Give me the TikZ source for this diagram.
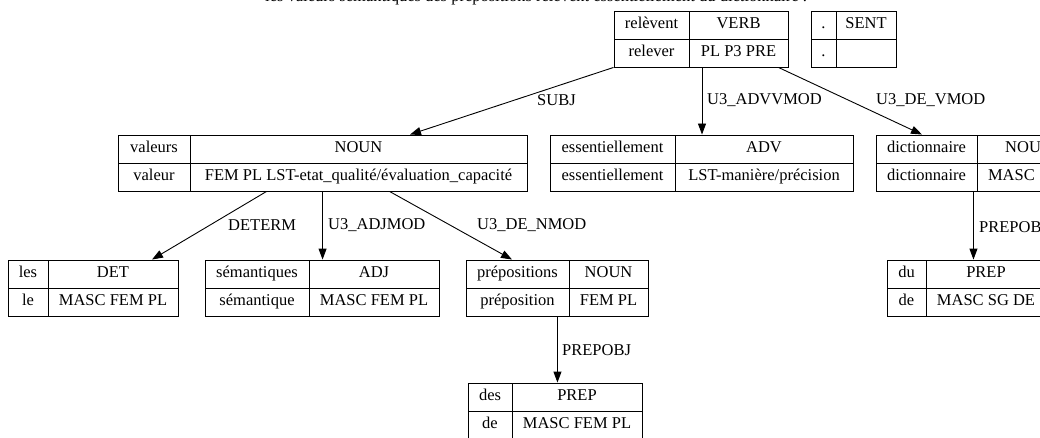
\documentclass[tikz,border=0pt]{standalone}
\usepackage{fontspec}
\setmainfont{Liberation Serif}
\usetikzlibrary{arrows.meta}

\tikzset{
    cell/.style={draw, line width=0.9pt, inner sep=0pt, minimum height=28pt,
                 text height=11.5pt, text depth=3.6pt, font=\fontsize{16.5}{20}\selectfont},
    dep/.style={line width=0.9pt, -{Triangle[length=11pt,width=8pt]}},
    deplabel/.style={anchor=west, inner sep=0pt, font=\fontsize{16.5}{20}\selectfont}
}

\begin{document}
\begin{tikzpicture}[x=1pt, y=-1pt]
            \useasboundingbox (0,0) rectangle (1040,438);
            \clip (0,0) rectangle (1040,438);
            \node[anchor=base, inner sep=0pt, font=\fontsize{16.5}{20}\selectfont] (sentence) at (536,1.5)
                {les valeurs sémantiques des prépositions relèvent essentiellement du dictionnaire .};
            % racine
            \node[cell, minimum width=75pt] (relevent-form) at (651.5,25) {relèvent};
            \node[cell, minimum width=99pt] (relevent-pos) at (738.5,25) {VERB};
            \node[cell, minimum width=75pt] (relevent-lemma) at (651.5,53) {relever};
            \node[cell, minimum width=99pt] (relevent-feat) at (738.5,53) {PL P3 PRE};
            \node[cell, minimum width=25pt] (sent-form) at (823.5,25) {.};
            \node[cell, minimum width=60pt] (sent-pos) at (866,25) {SENT};
            \node[cell, minimum width=25pt] (sent-lemma) at (823.5,53) {.};
            \node[cell, minimum width=60pt] (sent-feat) at (866,53) {};
            % niveau 1
            \node[cell, minimum width=72pt] (valeurs-form) at (154,149) {valeurs};
            \node[cell, minimum width=337pt] (valeurs-pos) at (358.5,149) {NOUN};
            \node[cell, minimum width=72pt] (valeurs-lemma) at (154,177) {valeur};
            \node[cell, minimum width=337pt] (valeurs-feat) at (358.5,177) {FEM PL LST-etat\_qualité/évaluation\_capacité};
            \node[cell, minimum width=125pt] (essentiellement-form) at (612.5,149) {essentiellement};
            \node[cell, minimum width=178pt] (essentiellement-pos) at (764,149) {ADV};
            \node[cell, minimum width=125pt] (essentiellement-lemma) at (612.5,177) {essentiellement};
            \node[cell, minimum width=178pt] (essentiellement-feat) at (764,177) {LST-manière/précision};
            \node[cell, minimum width=101pt] (dictionnaire-form) at (926.5,149) {dictionnaire};
            \node[cell, minimum width=104pt] (dictionnaire-pos) at (1029,149) {NOUN};
            \node[cell, minimum width=101pt] (dictionnaire-lemma) at (926.5,177) {dictionnaire};
            \node[cell, minimum width=104pt, text width=82pt, align=left] (dictionnaire-feat) at (1029,177) {MASC};
            % niveau 2
            \node[cell, minimum width=40pt] (les-form) at (28,274) {les};
            \node[cell, minimum width=130pt] (les-pos) at (113,274) {DET};
            \node[cell, minimum width=40pt] (les-lemma) at (28,302) {le};
            \node[cell, minimum width=130pt] (les-feat) at (113,302) {MASC FEM PL};
            \node[cell, minimum width=104pt] (semantiques-form) at (257,274) {sémantiques};
            \node[cell, minimum width=130pt] (semantiques-pos) at (374,274) {ADJ};
            \node[cell, minimum width=104pt] (semantiques-lemma) at (257,302) {sémantique};
            \node[cell, minimum width=130pt] (semantiques-feat) at (374,302) {MASC FEM PL};
            \node[cell, minimum width=103pt] (prepositions-form) at (517.5,274) {prépositions};
            \node[cell, minimum width=79pt] (prepositions-pos) at (608.5,274) {NOUN};
            \node[cell, minimum width=103pt] (prepositions-lemma) at (517.5,302) {préposition};
            \node[cell, minimum width=79pt] (prepositions-feat) at (608.5,302) {FEM PL};
            \node[cell, minimum width=39pt] (du-form) at (906.5,274) {du};
            \node[cell, minimum width=120pt] (du-pos) at (986,274) {PREP};
            \node[cell, minimum width=39pt] (du-lemma) at (906.5,302) {de};
            \node[cell, minimum width=120pt] (du-feat) at (986,302) {MASC SG DE};
            % niveau 3
            \node[cell, minimum width=44pt] (des-form) at (490,397) {des};
            \node[cell, minimum width=130pt] (des-pos) at (577,397) {PREP};
            \node[cell, minimum width=44pt] (des-lemma) at (490,425) {de};
            \node[cell, minimum width=130pt] (des-feat) at (577,425) {MASC FEM PL};
            % dependances
            \draw[dep] (relevent-lemma.south west) -- ([xshift=51.5pt]valeurs-pos.north);
            \draw[dep] ([xshift=-36.5pt]relevent-feat.south) -- ([xshift=-36.5pt]relevent-feat.south |- essentiellement-pos.north);
            \draw[dep] ([xshift=-10pt]relevent-feat.south east) -- ([xshift=-4.5pt]dictionnaire-form.north);
            \draw[dep] ([xshift=77pt]valeurs-feat.south west) -- ([xshift=39pt]les-pos.north);
            \draw[dep] ([xshift=133pt]valeurs-feat.south west) -- ([xshift=133pt]valeurs-feat.south west |- semantiques-pos.north);
            \draw[dep] ([xshift=200pt]valeurs-feat.south west) -- ([xshift=-5.5pt]prepositions-form.north);
            \draw[dep] ([xshift=-12pt]prepositions-lemma.south east) -- ([xshift=-12pt]prepositions-lemma.south east |- des-pos.north);
            \draw[dep] ([xshift=-4pt]dictionnaire-lemma.south east) -- ([xshift=-4pt]dictionnaire-lemma.south east |- du-pos.north);
            \node[deplabel] (subj) at (537,100) {SUBJ};
            \node[deplabel] (advvmod) at (707,100) {U3\_ADVVMOD};
            \node[deplabel] (devmod) at (876,100) {U3\_DE\_VMOD};
            \node[deplabel] (determ) at (228,225) {DETERM};
            \node[deplabel] (adjmod) at (328,225) {U3\_ADJMOD};
            \node[deplabel] (denmod) at (477,225) {U3\_DE\_NMOD};
            \node[deplabel] (prepobj) at (562,350) {PREPOBJ};
            \node[deplabel] (prepobj-du) at (979,227) {PREPOBJ};
        \end{tikzpicture}
\end{document}
